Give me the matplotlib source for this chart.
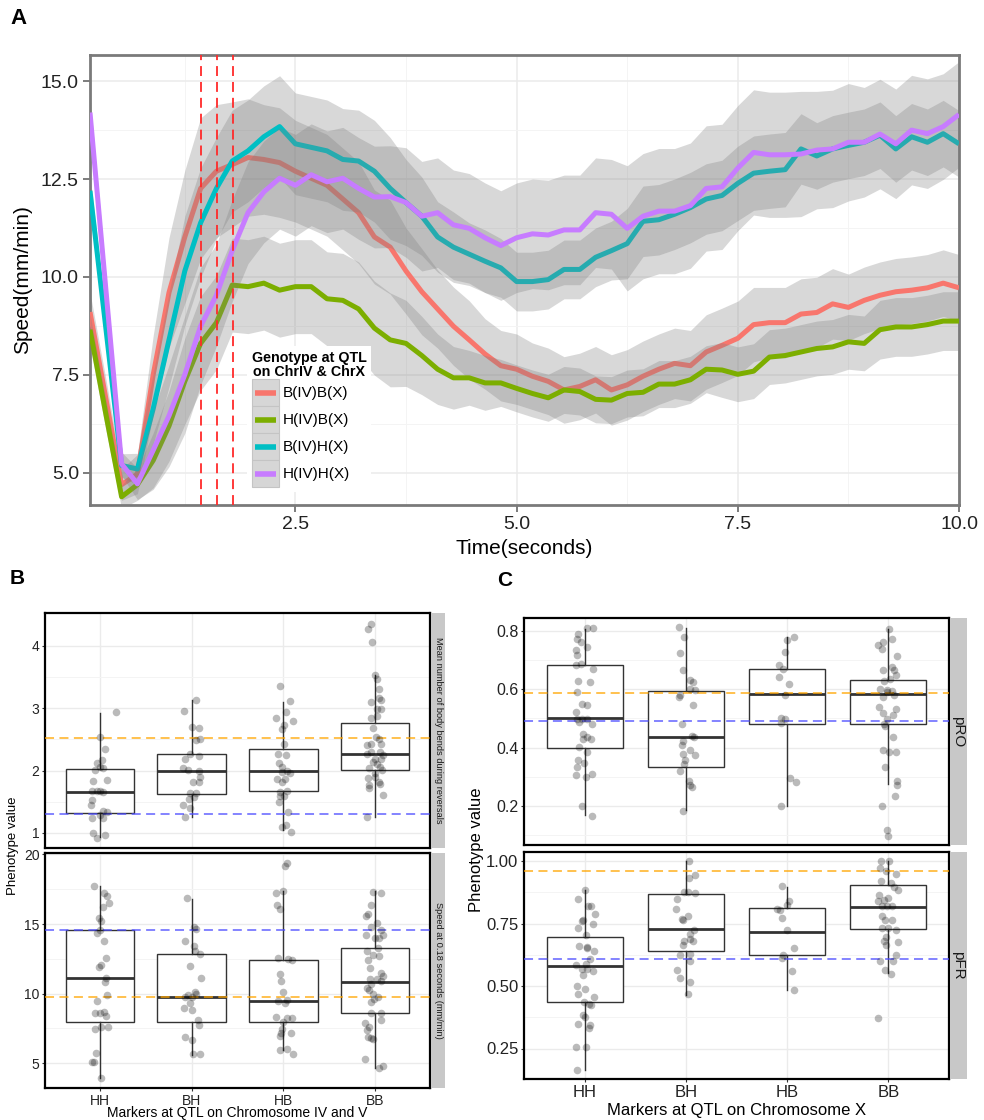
import numpy as np
import matplotlib
matplotlib.use('Agg')
import matplotlib.pyplot as plt
from matplotlib.patches import Rectangle
from matplotlib.lines import Line2D
from matplotlib.legend_handler import HandlerBase
from matplotlib.ticker import FixedLocator

plt.rcParams['font.family'] = ['Liberation Sans', 'DejaVu Sans']

# ---------------- panel A: speed traces ----------------
time = np.linspace(10 / 56, 10, 56)
genotypes = ['B(IV)B(X)', 'H(IV)B(X)', 'B(IV)H(X)', 'H(IV)H(X)']
geno_colors = ['#F8766D', '#7CAE00', '#00BFC4', '#C77CFF']
highlight_times = [1.43, 1.61, 1.79]

speed_bb = [9.1, 6.9, 4.69, 4.96, 7.5, 9.6, 11.02, 12.26, 12.7, 12.87,
            13.05, 13.0, 12.92, 12.7, 12.52, 12.34, 11.99, 11.64, 11.02, 10.76,
            10.15, 9.62, 9.18, 8.74, 8.39, 8.03, 7.73, 7.64, 7.46, 7.33,
            7.11, 7.2, 7.37, 7.11, 7.24, 7.46, 7.64, 7.79, 7.73, 8.08,
            8.25, 8.43, 8.78, 8.83, 8.83, 9.05, 9.09, 9.31, 9.22, 9.4,
            9.53, 9.62, 9.66, 9.72, 9.84, 9.72]
speed_hb = [8.65, 6.5, 4.38, 4.69, 5.31, 6.19, 7.33, 8.3, 8.83, 9.79,
            9.75, 9.84, 9.66, 9.75, 9.75, 9.44, 9.4, 9.18, 8.69, 8.39,
            8.3, 7.99, 7.64, 7.42, 7.42, 7.29, 7.29, 7.15, 7.02, 6.91,
            7.11, 7.07, 6.87, 6.85, 7.02, 7.05, 7.26, 7.26, 7.37, 7.64,
            7.62, 7.51, 7.59, 7.95, 7.99, 8.08, 8.17, 8.21, 8.34, 8.3,
            8.65, 8.72, 8.72, 8.78, 8.87, 8.87]
speed_bh = [12.2, 8.7, 5.18, 5.09, 6.63, 8.39, 10.15, 11.38, 12.26, 12.96,
            13.22, 13.58, 13.84, 13.4, 13.31, 13.22, 13.0, 12.96, 12.7, 12.26,
            11.9, 11.55, 11.02, 10.76, 10.58, 10.4, 10.23, 9.88, 9.88, 9.93,
            10.19, 10.19, 10.5, 10.67, 10.85, 11.42, 11.46, 11.6, 11.77, 11.99,
            12.08, 12.39, 12.65, 12.7, 12.74, 13.27, 13.09, 13.27, 13.36, 13.44,
            13.62, 13.27, 13.58, 13.44, 13.66, 13.4]
speed_hh = [14.2, 9.7, 5.22, 4.71, 5.57, 6.45, 7.5, 8.74, 9.53, 10.67,
            11.64, 12.17, 12.52, 12.34, 12.61, 12.43, 12.52, 12.26, 12.04, 12.05,
            11.9, 11.55, 11.64, 11.33, 11.24, 11.0, 10.8, 11.0, 11.1, 11.07,
            11.2, 11.2, 11.64, 11.6, 11.24, 11.55, 11.68, 11.68, 11.82, 12.26,
            12.3, 12.78, 13.18, 13.12, 13.12, 13.14, 13.24, 13.27, 13.44, 13.44,
            13.65, 13.4, 13.75, 13.66, 13.84, 14.15]

# half widths of the grey ribbons
band_bb = [0.5, 0.5, 0.4, 0.5, 1.0, 1.4, 1.7, 1.8, 1.7, 1.6,
           1.5, 1.4, 1.4, 1.3, 1.3, 1.3, 1.3, 1.3, 1.2, 1.2,
           1.1, 1.1, 1.0, 1.0, 1.0, 0.9, 0.9, 0.9, 0.85, 0.85,
           0.85, 0.85, 0.85, 0.9, 0.9, 0.9, 0.9, 0.9, 0.9, 0.95,
           0.95, 0.95, 0.95, 0.9, 0.9, 0.9, 0.9, 0.9, 0.85, 0.85,
           0.85, 0.85, 0.85, 0.85, 0.85, 0.85]
band_hb = [0.4, 0.4, 0.3, 0.4, 0.7, 0.9, 1.1, 1.2, 1.2, 1.2,
           1.2, 1.2, 1.2, 1.2, 1.2, 1.2, 1.2, 1.2, 1.2, 1.2,
           1.1, 1.0, 0.9, 0.8, 0.7, 0.7, 0.6, 0.6, 0.6, 0.6,
           0.6, 0.6, 0.6, 0.6, 0.6, 0.6, 0.6, 0.6, 0.6, 0.6,
           0.7, 0.7, 0.7, 0.7, 0.7, 0.7, 0.7, 0.7, 0.7, 0.7,
           0.75, 0.75, 0.75, 0.75, 0.75, 0.75]
band_bh = [0.4, 0.4, 0.3, 0.4, 0.9, 1.2, 1.4, 1.4, 1.3, 1.3,
           1.3, 1.3, 1.3, 1.3, 1.3, 1.3, 1.3, 1.3, 1.3, 1.3,
           1.1, 1.0, 0.9, 0.9, 0.8, 0.8, 0.75, 0.75, 0.75, 0.75,
           0.75, 0.75, 0.75, 0.75, 0.9, 0.9, 0.9, 0.9, 0.9, 0.9,
           0.9, 0.95, 0.95, 0.95, 0.95, 0.9, 0.85, 0.85, 0.85, 0.85,
           0.85, 0.85, 0.85, 0.85, 0.85, 0.85]
band_hh = [0.4, 0.4, 0.3, 0.4, 1.0, 1.3, 1.5, 1.5, 1.3, 1.3,
           1.3, 1.3, 1.3, 1.3, 1.3, 1.3, 1.3, 1.3, 1.3, 1.3,
           1.4, 1.4, 1.4, 1.4, 1.4, 1.4, 1.4, 1.4, 1.4, 1.4,
           1.4, 1.4, 1.4, 1.4, 1.6, 1.6, 1.6, 1.6, 1.6, 1.6,
           1.6, 1.6, 1.6, 1.6, 1.6, 1.6, 1.5, 1.5, 1.5, 1.4,
           1.4, 1.4, 1.4, 1.4, 1.35, 1.35]

# ---------------- panels B and C: box plots ----------------
markers = ['HH', 'BH', 'HB', 'BB']

# B top: mean number of body bends during reversals
bends_q1 = [1.32, 1.63, 1.68, 2.01]
bends_med = [1.66, 1.99, 1.99, 2.26]
bends_q3 = [2.02, 2.27, 2.34, 2.76]
bends_lo = [0.94, 1.26, 1.05, 1.26]
bends_hi = [2.92, 3.13, 3.1, 3.53]
bends_lines = [2.52, 1.3]
bends_y = [
    [2.93, 2.54, 2.35, 2.17, 2.12, 2.06, 2.01, 2.04, 1.84, 1.85, 1.68, 1.67, 1.68, 1.66,
     1.53, 1.45, 1.36, 1.33, 1.29, 1.24, 1.24, 1.0, 0.92, 0.97],
    [2.95, 3.13, 2.7, 2.68, 2.49, 2.51, 2.27, 2.23, 2.18, 2.04, 2.01, 2.0, 1.9, 1.82,
     1.82, 1.64, 1.64, 1.57, 1.54, 1.45, 1.4, 1.25],
    [3.35, 3.12, 2.84, 2.93, 2.8, 2.73, 2.66, 2.42, 2.27, 2.25, 2.12, 2.06, 1.99, 1.98,
     1.96, 1.87, 1.82, 1.86, 1.65, 1.68, 1.6, 1.59, 1.5, 1.33, 1.13, 1.1, 1.02],
    [4.34, 4.26, 4.06, 3.53, 3.46, 3.3, 3.09, 3.13, 3.16, 2.98, 2.99, 2.84, 2.88, 2.68,
     2.54, 2.51, 2.41, 2.42, 2.43, 2.27, 2.29, 2.29, 2.25, 2.18, 2.18, 2.14, 2.1, 2.04,
     2.06, 2.01, 1.96, 1.88, 1.9, 1.77, 1.81, 1.78, 1.72, 1.61, 1.26]]
bends_dx = [
    [0.17, 0.0, 0.055, 0.018, -0.036, 0.0, -0.055, 0.036, -0.073, 0.08, -0.09, -0.036,
     0.0, 0.036, -0.09, -0.1, 0.036, 0.073, 0.0, -0.09, 0.036, -0.073, -0.036, 0.055],
    [-0.08, 0.05, 0.0, 0.08, 0.05, 0.09, -0.02, 0.08, -0.07, -0.09, -0.04, 0.08, 0.09,
     0.08, 0.01, -0.02, 0.05, 0.03, -0.03, -0.1, -0.02, -0.07],
    [-0.04, 0.07, -0.08, 0.03, 0.1, 0.01, -0.01, 0.01, -0.06, 0.03, -0.05, -0.02, 0.04,
     -0.02, 0.07, -0.07, -0.01, 0.02, -0.04, 0.04, -0.04, 0.01, -0.05, 0.05, 0.03, -0.02, 0.08],
    [-0.04, -0.08, -0.03, 0.0, 0.02, 0.04, -0.04, 0.07, 0.04, 0.07, 0.02, -0.04, 0.02,
     -0.02, 0.01, 0.04, -0.09, 0.07, -0.04, -0.09, -0.04, 0.05, 0.09, 0.0, 0.07, -0.02,
     0.02, -0.07, 0.05, 0.08, 0.0, -0.08, 0.0, -0.07, 0.04, 0.05, -0.07, 0.09, -0.09]]

# B bottom: speed at 0.18 seconds
speed0_q1 = [7.99, 7.99, 7.99, 8.64]
speed0_med = [11.11, 9.79, 9.48, 10.85]
speed0_q3 = [14.55, 12.84, 12.43, 13.28]
speed0_lo = [3.91, 5.59, 5.95, 4.63]
speed0_hi = [17.72, 16.83, 17.36, 17.36]
speed0_lines = [9.75, 14.6]
speed0_y = [
    [17.72, 17.24, 17.0, 16.2, 16.5, 15.44, 15.2, 14.55, 14.36, 13.76, 12.56, 12.07, 11.88,
     11.11, 10.8, 9.91, 9.48, 8.64, 8.59, 8.71, 8.4, 7.63, 7.58, 7.46, 5.71, 5.11, 5.11, 3.91],
    [16.88, 14.76, 14.64, 13.76, 13.44, 13.08, 12.84, 12.0, 11.11, 10.08, 9.96, 9.87, 9.79,
     9.79, 9.31, 9.0, 8.79, 8.11, 7.75, 6.91, 6.67, 5.64, 5.64],
    [19.4, 19.2, 17.36, 17.24, 16.4, 16.09, 12.56, 12.48, 12.39, 11.4, 10.87, 10.15, 9.5,
     9.55, 9.31, 8.35, 8.28, 8.23, 7.99, 7.44, 7.2, 7.2, 6.96, 6.0, 5.95, 5.66],
    [17.24, 17.31, 16.4, 15.75, 15.6, 15.08, 14.79, 14.6, 14.24, 14.24, 14.0, 14.0, 13.28,
     13.04, 12.8, 12.68, 12.43, 11.83, 11.47, 11.28, 11.04, 11.04, 10.87, 10.7, 10.39,
     10.23, 9.99, 9.79, 9.6, 9.43, 8.64, 8.59, 8.11, 7.92, 7.63, 7.39, 6.91, 6.79, 6.72,
     5.3, 4.63, 4.8]]
speed0_dx = [
    [-0.07, 0.04, 0.08, 0.03, 0.1, -0.01, 0.01, 0.0, -0.03, 0.04, 0.07, 0.01, -0.01, 0.07,
     0.05, 0.08, -0.03, 0.0, -0.05, 0.04, 0.07, 0.01, 0.09, -0.05, -0.04, -0.09, -0.07, 0.01],
    [-0.05, 0.03, 0.05, -0.07, 0.02, 0.04, 0.09, -0.02, 0.1, 0.04, 0.05, -0.04, -0.07, 0.0,
     -0.02, -0.08, 0.0, 0.07, 0.08, -0.07, 0.0, 0.01, 0.09],
    [0.04, 0.02, 0.0, -0.08, -0.07, -0.04, -0.06, 0.05, 0.09, -0.04, -0.03, 0.0, -0.06,
     0.04, 0.02, -0.08, 0.04, 0.09, 0.0, -0.01, -0.03, 0.08, -0.04, 0.04, -0.04, 0.11],
    [0.07, -0.02, -0.04, -0.08, -0.1, 0.02, -0.04, 0.07, -0.1, 0.09, 0.04, 0.0, 0.03, -0.09,
     -0.02, 0.04, -0.08, -0.05, 0.07, 0.09, -0.05, 0.02, 0.07, -0.04, -0.09, -0.07, -0.02,
     0.03, -0.01, -0.04, 0.07, -0.04, 0.07, -0.11, -0.07, -0.09, -0.08, -0.04, -0.02,
     -0.11, 0.04, 0.09]]

# C top: pRO
pro_q1 = [0.4, 0.334, 0.48, 0.482]
pro_med = [0.502, 0.435, 0.583, 0.583]
pro_q3 = [0.685, 0.593, 0.671, 0.631]
pro_lo = [0.168, 0.185, 0.2, 0.273]
pro_hi = [0.808, 0.81, 0.779, 0.808]
pro_lines = [0.589, 0.49]
pro_y = [
    [0.81, 0.81, 0.79, 0.774, 0.762, 0.745, 0.734, 0.717, 0.682, 0.688, 0.669, 0.627, 0.625,
     0.591, 0.551, 0.545, 0.522, 0.499, 0.499, 0.497, 0.486, 0.482, 0.448, 0.437, 0.43,
     0.429, 0.402, 0.385, 0.357, 0.347, 0.334, 0.305, 0.309, 0.3, 0.2, 0.166],
    [0.814, 0.779, 0.726, 0.667, 0.631, 0.625, 0.599, 0.602, 0.579, 0.574, 0.545, 0.482,
     0.422, 0.439, 0.437, 0.408, 0.391, 0.374, 0.376, 0.357, 0.345, 0.319, 0.285, 0.271,
     0.263, 0.183],
    [0.779, 0.768, 0.728, 0.682, 0.671, 0.642, 0.619, 0.579, 0.502, 0.499, 0.484, 0.294,
     0.28, 0.2],
    [0.808, 0.774, 0.762, 0.751, 0.739, 0.713, 0.667, 0.677, 0.665, 0.648, 0.629, 0.634,
     0.602, 0.597, 0.594, 0.574, 0.579, 0.591, 0.539, 0.534, 0.511, 0.517, 0.499, 0.48,
     0.474, 0.437, 0.391, 0.385, 0.385, 0.334, 0.286, 0.271, 0.234, 0.2, 0.117, 0.097]]
pro_dx = [
    [0.02, 0.08, -0.07, -0.08, -0.04, 0.02, -0.09, -0.08, -0.09, -0.04, 0.08, -0.07, 0.05,
     -0.08, -0.03, 0.02, -0.09, -0.08, -0.03, 0.02, -0.06, 0.07, -0.02, 0.02, 0.06, -0.02,
     -0.06, 0.02, -0.07, -0.01, -0.08, -0.09, 0.07, 0.01, -0.03, 0.07],
    [-0.07, -0.02, -0.06, -0.03, 0.04, 0.07, 0.09, 0.04, -0.06, -0.07, 0.07, -0.04, -0.03,
     0.06, 0.08, -0.04, 0.04, 0.09, -0.03, -0.01, -0.02, -0.06, 0.03, 0.04, 0.06, -0.03],
    [0.07, 0.0, -0.02, -0.08, -0.04, -0.08, 0.02, -0.02, -0.06, -0.02, -0.06, 0.03, 0.09,
     -0.06],
    [0.01, 0.04, -0.05, -0.1, -0.06, 0.09, -0.05, 0.04, 0.06, 0.08, -0.04, 0.02, -0.08,
     -0.01, 0.04, -0.05, 0.06, -0.01, -0.09, 0.08, 0.05, -0.05, -0.01, -0.04, -0.03, 0.05,
     -0.05, 0.01, 0.08, -0.03, 0.09, 0.09, 0.07, -0.06, -0.01, 0.0]]

# C bottom: pFR
pfr_q1 = [0.435, 0.64, 0.626, 0.727]
pfr_med = [0.58, 0.727, 0.717, 0.816]
pfr_q3 = [0.697, 0.87, 0.814, 0.906]
pfr_lo = [0.165, 0.464, 0.484, 0.551]
pfr_hi = [0.886, 1.0, 0.896, 1.0]
pfr_lines = [0.959, 0.609]
pfr_y = [
    [0.847, 0.883, 0.819, 0.819, 0.787, 0.761, 0.763, 0.734, 0.747, 0.703, 0.66, 0.657,
     0.654, 0.641, 0.61, 0.584, 0.588, 0.57, 0.57, 0.561, 0.544, 0.501, 0.487, 0.467,
     0.455, 0.437, 0.428, 0.424, 0.384, 0.378, 0.347, 0.344, 0.334, 0.258, 0.258, 0.165],
    [1.0, 0.945, 0.934, 0.876, 0.872, 0.876, 0.85, 0.81, 0.779, 0.77, 0.763, 0.723, 0.707,
     0.681, 0.68, 0.688, 0.664, 0.624, 0.63, 0.601, 0.564, 0.533, 0.515, 0.467],
    [0.9, 0.84, 0.823, 0.806, 0.81, 0.774, 0.723, 0.654, 0.624, 0.613, 0.561, 0.484],
    [1.0, 1.0, 0.972, 0.949, 0.959, 0.919, 0.914, 0.896, 0.883, 0.866, 0.854, 0.843, 0.84,
     0.819, 0.819, 0.819, 0.779, 0.766, 0.763, 0.734, 0.734, 0.723, 0.697, 0.68, 0.677,
     0.664, 0.626, 0.6, 0.601, 0.564, 0.547, 0.374]]
pfr_dx = [
    [-0.07, 0.0, 0.03, 0.06, 0.1, -0.03, -0.02, -0.07, 0.08, 0.01, -0.06, 0.02, 0.02, 0.09,
     0.05, -0.09, 0.01, -0.03, 0.02, 0.08, -0.02, -0.08, 0.0, -0.07, 0.09, -0.01, 0.04,
     0.06, -0.02, 0.0, -0.07, 0.05, 0.04, -0.09, 0.01, -0.08],
    [0.03, 0.09, 0.03, -0.02, 0.09, 0.02, -0.09, -0.1, 0.02, -0.04, -0.03, 0.08, 0.04,
     -0.02, 0.07, 0.04, -0.03, -0.06, 0.04, 0.04, -0.09, -0.06, 0.04, 0.02],
    [-0.05, 0.02, 0.0, -0.07, -0.1, -0.05, 0.0, 0.07, -0.04, -0.05, 0.05, 0.07],
    [-0.07, 0.01, -0.08, 0.08, -0.02, -0.07, 0.03, 0.06, 0.1, -0.09, 0.0, -0.04, -0.1,
     -0.06, -0.01, 0.04, -0.06, -0.03, 0.04, 0.0, -0.06, 0.08, -0.02, -0.04, 0.1, -0.02,
     0.08, -0.08, 0.05, -0.03, 0.03, -0.1]]

W, H = 984, 1120
fig = plt.figure(figsize=(W / 100, H / 100), dpi=100)


def rect(left, top, right, bottom):
    return [left / W, 1 - bottom / H, (right - left) / W, (bottom - top) / H]


class KeyHandler(HandlerBase):
    # grey key square with a short coloured line, like the ggplot legend
    def create_artists(self, legend, orig_handle, xdescent, ydescent, width, height,
                       fontsize, trans):
        box = Rectangle((-xdescent, -ydescent), width, height, facecolor='#d6d6d6',
                        edgecolor='#c4c4c4', lw=0.8, transform=trans)
        y = -ydescent + height / 2
        line = Line2D([-xdescent + 0.1 * width, -xdescent + 0.9 * width], [y, y],
                      color=orig_handle.get_color(), lw=4, solid_capstyle='butt',
                      transform=trans)
        return [box, line]


# ---------------- draw panel A ----------------
axA = fig.add_axes(rect(90, 55, 959, 505))
series = [speed_bb, speed_hb, speed_bh, speed_hh]
bands = [band_bb, band_hb, band_bh, band_hh]
for i, (vals, hw, col) in enumerate(zip(series, bands, geno_colors)):
    v = np.array(vals)
    h = np.array(hw)
    axA.fill_between(time, v - h, v + h, color='#7f7f7f', alpha=0.3, lw=0, zorder=2 + 2 * i)
    axA.plot(time, v, color=col, lw=3.6, zorder=3 + 2 * i, solid_capstyle='butt')
for t in highlight_times:
    axA.axvline(t, color='#FF2A2A', ls=(0, (5.5, 3.3)), lw=1.3, zorder=20)

axA.set_xlim(10 / 56, 10)
axA.set_ylim(4.17, 15.67)
axA.set_xticks([2.5, 5.0, 7.5, 10.0])
axA.set_xticklabels(['2.5', '5.0', '7.5', '10.0'])
axA.set_yticks([5.0, 7.5, 10.0, 12.5, 15.0])
axA.set_yticklabels(['5.0', '7.5', '10.0', '12.5', '15.0'])
axA.xaxis.set_minor_locator(FixedLocator([1.25, 3.75, 6.25, 8.75]))
axA.yaxis.set_minor_locator(FixedLocator([6.25, 8.75, 11.25, 13.75]))
axA.set_axisbelow(True)
axA.grid(which='major', color='#ebebeb', lw=1.1)
axA.grid(which='minor', color='#f4f4f4', lw=0.7)
axA.tick_params(which='major', labelsize=14, color='#666666', length=5, width=1.2,
                labelcolor='#222222', pad=3)
axA.tick_params(which='minor', length=0)
for sp in axA.spines.values():
    sp.set_color('#7a7a7a')
    sp.set_linewidth(2)

fig.text(524 / W, 1 - 549 / H, 'Time(seconds)', fontsize=15, ha='center', va='center')
fig.text(23 / W, 1 - 280 / H, 'Speed(mm/min)', fontsize=15, rotation=90,
         ha='center', va='center')

handles = [Line2D([], [], color=c) for c in geno_colors]
leg = axA.legend(handles, genotypes, title='Genotype at QTL\non ChrIV & ChrX',
                 handler_map={Line2D: KeyHandler()},
                 loc='upper left', bbox_to_anchor=(0.181, 0.353), frameon=True,
                 fontsize=11, title_fontproperties={'weight': 'bold', 'size': 10.3},
                 handlelength=1.77, handleheight=2.34, labelspacing=0.0,
                 handletextpad=0.25, borderpad=0.3, borderaxespad=0, fancybox=False,
                 alignment='left')
leg.get_title().set_multialignment('center')
leg.get_title().set_linespacing(1.05)
leg.get_frame().set_facecolor('white')
leg.get_frame().set_edgecolor('none')
leg.get_frame().set_alpha(1)
leg.set_zorder(30)

# ---------------- draw panels B and C ----------------


def facet(box, q1, med, q3, lo, hi, ys, dxs, hlines, ylim, yticks, ylabels,
          minors, bottom, tick_size):
    ax = fig.add_axes(box)
    stats = [dict(q1=a, med=b, q3=c, whislo=d, whishi=e)
             for a, b, c, d, e in zip(q1, med, q3, lo, hi)]
    ax.bxp(stats, positions=[1, 2, 3, 4], widths=0.75, showfliers=False,
           showcaps=False, patch_artist=True,
           boxprops=dict(facecolor='white', edgecolor='#333333', lw=1.0),
           whiskerprops=dict(color='#333333', lw=1.0),
           medianprops=dict(color='#333333', lw=2.0), zorder=2)
    ax.axhline(hlines[0], color='#FFA500', alpha=0.75, ls=(0, (5, 3)), lw=1.3, zorder=3)
    ax.axhline(hlines[1], color='#4D4DFF', alpha=0.75, ls=(0, (5, 3)), lw=1.3, zorder=3)
    for i, (y, dx) in enumerate(zip(ys, dxs)):
        ax.scatter(np.array(dx) + i + 1, y, s=30, color='black', alpha=0.27, lw=0, zorder=4)
    ax.set_xlim(0.4, 4.6)
    ax.set_ylim(*ylim)
    ax.set_xticks([1, 2, 3, 4])
    ax.set_yticks(yticks)
    ax.set_yticklabels(ylabels)
    ax.yaxis.set_minor_locator(FixedLocator(minors))
    ax.set_axisbelow(True)
    ax.grid(which='major', color='#ebebeb', lw=1.0)
    ax.grid(which='minor', axis='y', color='#f4f4f4', lw=0.7)
    ax.tick_params(which='minor', length=0)
    ax.tick_params(which='major', labelsize=tick_size, color='#333333', length=2.5,
                   labelcolor='#222222', pad=1.5)
    if bottom:
        ax.set_xticklabels(markers)
    else:
        ax.tick_params(axis='x', length=0, labelbottom=False)
    for sp in ax.spines.values():
        sp.set_color('black')
        sp.set_linewidth(1.6)
    return ax


def strip(box, label, size):
    ax = fig.add_axes(box)
    ax.set_facecolor('#c8c8c8')
    ax.set_xticks([])
    ax.set_yticks([])
    for sp in ax.spines.values():
        sp.set_visible(False)
    ax.text(0.5, 0.5, label, rotation=270, ha='center', va='center',
            fontsize=size, color='#1a1a1a', transform=ax.transAxes)


facet(rect(45, 613, 430, 848), bends_q1, bends_med, bends_q3, bends_lo, bends_hi,
      bends_y, bends_dx, bends_lines, (0.76, 4.52), [1, 2, 3, 4], ['1', '2', '3', '4'],
      [1.5, 2.5, 3.5], False, 10)
facet(rect(45, 853, 430, 1088), speed0_q1, speed0_med, speed0_q3, speed0_lo, speed0_hi,
      speed0_y, speed0_dx, speed0_lines, (3.22, 20.1), [5, 10, 15, 20],
      ['5', '10', '15', '20'], [7.5, 12.5, 17.5], True, 10)
strip(rect(431, 613, 445, 848), 'Mean number of body bends during reversals', 6.7)
strip(rect(431, 853, 445, 1088), 'Speed at 0.18 seconds (mm/min)', 6.7)

facet(rect(524, 618, 949, 845), pro_q1, pro_med, pro_q3, pro_lo, pro_hi,
      pro_y, pro_dx, pro_lines, (0.065, 0.845), [0.2, 0.4, 0.6, 0.8],
      ['0.2', '0.4', '0.6', '0.8'], [0.1, 0.3, 0.5, 0.7], False, 11.5)
facet(rect(524, 852, 949, 1079), pfr_q1, pfr_med, pfr_q3, pfr_lo, pfr_hi,
      pfr_y, pfr_dx, pfr_lines, (0.128, 1.036), [0.25, 0.5, 0.75, 1.0],
      ['0.25', '0.50', '0.75', '1.00'], [0.375, 0.625, 0.875], True, 12)
strip(rect(950, 618, 967, 845), 'pRO', 11)
strip(rect(950, 852, 967, 1079), 'pFR', 11)

fig.text(13 / W, 1 - 846 / H, 'Phenotype value', fontsize=9.5, rotation=90,
         ha='center', va='center')
fig.text(237 / W, 1 - 1113 / H, 'Markers at QTL on Chromosome IV and V', fontsize=10,
         ha='center', va='center')
fig.text(476 / W, 1 - 850 / H, 'Phenotype value', fontsize=12, rotation=90,
         ha='center', va='center')
fig.text(737 / W, 1 - 1110 / H, 'Markers at QTL on Chromosome X', fontsize=12,
         ha='center', va='center')

fig.text(10 / W, 1 - 19 / H, 'A', fontsize=16, fontweight='bold', va='center')
fig.text(10 / W, 1 - 579 / H, 'B', fontsize=15, fontweight='bold', va='center')
fig.text(497 / W, 1 - 581 / H, 'C', fontsize=15, fontweight='bold', va='center')

fig.savefig('out.png', dpi=100)
